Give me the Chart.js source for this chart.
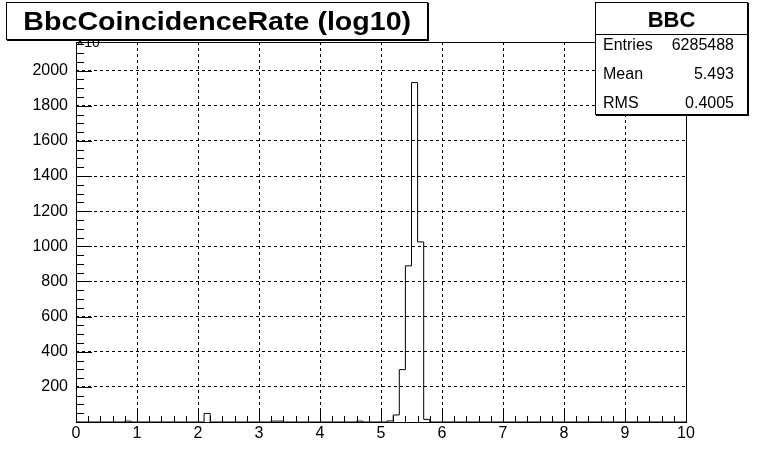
<!DOCTYPE html>
<html>
<head>
<meta charset="utf-8">
<script src="https://cdn.jsdelivr.net/npm/chart.js@4/dist/chart.umd.min.js"></script>
<style>
  body { margin: 0; background: #fff; font-family: "Liberation Sans", Arial, sans-serif; }
  #wrap { position: relative; width: 763px; height: 469px; }
  #c { position: absolute; left: 0; top: 0; }
  .box { position: absolute; background: #fff; border: 1px solid #000; box-shadow: 1px 1px 0 #000; }
  #title { left: 6px; top: 2px; width: 420px; height: 36px; font-weight: bold; font-size: 26px;
           text-align: center; line-height: 37px; z-index: 3; }
  #title span { display: inline-block; transform: scaleX(1.1); }
  #expo { position: absolute; left: 76px; top: 30px; font-size: 14px; line-height: 16px; z-index: 2; }
  #stats { left: 595px; top: 2px; width: 151px; height: 111px; z-index: 3; font-size: 16px; }
  #stats .head { height: 31px; border-bottom: 1px solid #000; text-align: center; font-weight: bold;
                 font-size: 22px; line-height: 33px; }
  #stats .row { position: relative; height: 29px; line-height: 20px; padding-left: 7px; }
  #stats .row span { position: absolute; right: 13px; }
</style>
</head>
<body>
<div id="wrap">
  <canvas id="c" width="763" height="469"></canvas>
  <div id="expo">×10<sup style="font-size:10px">3</sup></div>
  <div class="box" id="title"><span>BbcCoincidenceRate (log10)</span></div>
  <div class="box" id="stats">
    <div class="head">BBC</div>
    <div class="row">Entries<span>6285488</span></div>
    <div class="row">Mean<span>5.493</span></div>
    <div class="row">RMS<span>0.4005</span></div>
  </div>
</div>
<script>
// histogram binning (100 bins from 0 to 10)
const nBins = 100;
const xMin = 0;
const xMax = 10;
// non-empty bins: lower edge and content (x10^3)
const binLow = [0.8, 2.1, 3.2, 3.3, 4.6, 5.1, 5.2, 5.3, 5.4, 5.5, 5.6, 5.7];
const binCount = [5, 49, 5, 5, 5, 6, 40, 298, 889, 1932, 1025, 15];
const yMax = 2163;
const xTicks = [0, 1, 2, 3, 4, 5, 6, 7, 8, 9, 10];
const yTicks = [200, 400, 600, 800, 1000, 1200, 1400, 1600, 1800, 2000];

// full list of bin contents, empty bins are zero
const contents = new Array(nBins).fill(0);
binLow.forEach((lo, i) => {
  contents[Math.round((lo - xMin) / (xMax - xMin) * nBins)] = binCount[i];
});
const binW = (xMax - xMin) / nBins;
const points = contents.map((v, i) => ({ x: xMin + i * binW, y: v }));
points.push({ x: xMax, y: contents[nBins - 1] });

// frame + inward ticks like ROOT
const frame = {
  id: 'frame',
  afterDraw(chart) {
    const { ctx, chartArea: a, scales: { x, y } } = chart;
    ctx.save();
    ctx.strokeStyle = '#000';
    ctx.lineWidth = 1;
    ctx.beginPath();
    for (let v = 0; v <= 50; v++) {
      const px = Math.round(x.getPixelForValue(v * 0.2)) + 0.5;
      const len = v % 5 === 0 ? 11 : 6;
      ctx.moveTo(px, a.bottom);
      ctx.lineTo(px, a.bottom - len);
    }
    for (let v = 0; v <= 2150; v += 50) {
      const py = Math.round(y.getPixelForValue(v)) + 0.5;
      const len = v % 200 === 0 ? 16 : 8;
      ctx.moveTo(a.left, py);
      ctx.lineTo(a.left + len, py);
    }
    ctx.stroke();
    ctx.strokeRect(Math.round(a.left) + 0.5, Math.round(a.top) + 0.5,
                   Math.round(a.right - a.left), Math.round(a.bottom - a.top));
    ctx.restore();
  }
};

const tickFont = { family: 'Liberation Sans', size: 16 };

new Chart(document.getElementById('c'), {
  type: 'line',
  data: {
    datasets: [{
      data: points,
      stepped: 'before',
      borderColor: '#000',
      borderWidth: 1,
      pointRadius: 0,
      fill: false
    }]
  },
  options: {
    responsive: false,
    animation: false,
    events: [],
    layout: { padding: { top: 42, right: 77, left: 0, bottom: 0 } },
    plugins: { legend: { display: false }, tooltip: { enabled: false } },
    scales: {
      x: {
        type: 'linear', min: xMin, max: xMax,
        afterFit: s => { s.height = 47; },
        afterBuildTicks: s => { s.ticks = xTicks.map(v => ({ value: v })); },
        ticks: { color: '#000', padding: 2, font: tickFont, callback: v => String(v) },
        grid: {
          drawTicks: false, lineWidth: 1,
          color: c => (c.tick && c.tick.value > xMin && c.tick.value < xMax) ? '#000' : 'rgba(0,0,0,0)'
        },
        border: { display: false, dash: [3, 3] }
      },
      y: {
        min: 0, max: yMax,
        afterFit: s => { s.width = 76; },
        afterBuildTicks: s => { s.ticks = yTicks.map(v => ({ value: v })); },
        ticks: { color: '#000', padding: 8, font: tickFont, callback: v => String(v) },
        grid: { drawTicks: false, lineWidth: 1, color: '#000' },
        border: { display: false, dash: [3, 3] }
      }
    }
  },
  plugins: [frame]
});
</script>
</body>
</html>
